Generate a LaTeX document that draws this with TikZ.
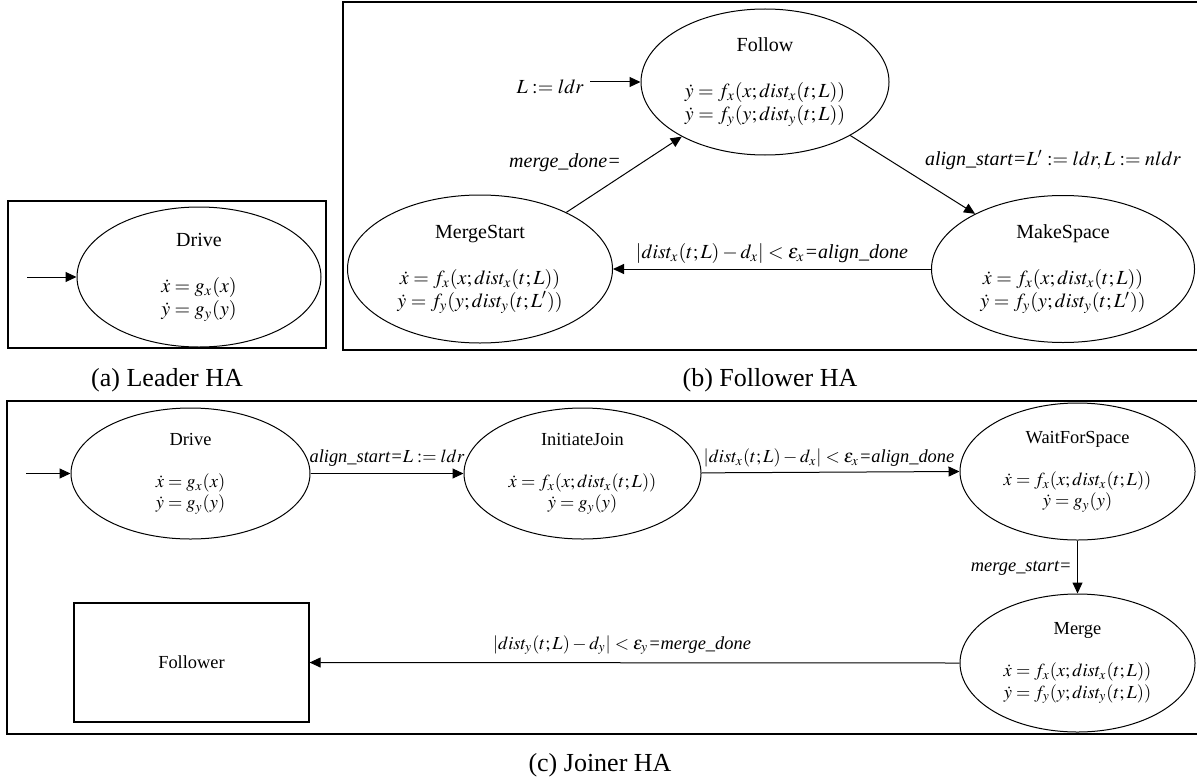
\documentclass[tikz,border=0pt]{standalone}
\usepackage{mathptmx}
\usepackage[no-math]{fontspec}
\setmainfont{Liberation Serif}
\usetikzlibrary{shapes.geometric,arrows.meta}
\tikzset{
  stnode/.style={draw, ellipse, inner sep=0pt, line width=0.5pt, align=center,
    font=\fontsize{10}{11.5}\selectfont},
  stsmall/.style={stnode, font=\fontsize{9.2}{10.6}\selectfont},
  framebox/.style={draw, line width=0.6pt},
  trans/.style={draw, line width=0.5pt, -{Triangle[length=5.5pt,width=5pt]}},
  labtxt/.style={inner sep=0pt, font=\fontsize{10}{12}\selectfont},
  labsmall/.style={inner sep=0pt, font=\fontsize{9.2}{11}\selectfont},
  captxt/.style={inner sep=0pt, font=\fontsize{13}{15}\selectfont},
}
\begin{document}
\begin{tikzpicture}[x=0.5pt,y=-0.5pt]
\useasboundingbox (0,0) rectangle (1197,781);
% frames
\draw[framebox] (8,201) rectangle (326,348);
\draw[framebox] (343,2) rectangle (1199,350);
\draw[framebox] (7,401) rectangle (1199,734);

% (a) Leader
\node[stnode, minimum width=122pt, minimum height=70pt] (drA) at (199,277)
  {Drive\\[11.5pt]$\dot{x} = g_x(x)$\\$\dot{y} = g_y(y)$};
\coordinate (inA) at (27,277);
\draw[trans] (inA) -- (drA.west);
\node[captxt] (capA) at (167,380) {(a) Leader HA};

% (b) Follower
\node[stnode, minimum width=124pt, minimum height=73pt] (fol) at (765,82)
  {Follow\\[11.5pt]$\dot{y} = f_x(x;dist_x(t;L))$\\$\dot{y} = f_y(y;dist_y(t;L))$};
\node[stnode, minimum width=132.5pt, minimum height=74pt] (mst) at (480,269)
  {MergeStart\\[11.5pt]$\dot{x} = f_x(x;dist_x(t;L))$\\$\dot{y} = f_y(y;dist_y(t;L'))$};
\node[stnode, minimum width=131.5pt, minimum height=73.5pt] (msp) at (1063,269)
  {MakeSpace\\[11.5pt]$\dot{x} = f_x(x;dist_x(t;L))$\\$\dot{y} = f_y(y;dist_y(t;L'))$};
\coordinate (inB) at (590,82);
\draw[trans] (inB) -- (fol.west);
\node[labtxt, anchor=east] (lL) at (584,87) {$L := ldr$};
\draw[trans] (mst) -- (fol);
\node[labtxt] (lmd) at (565,163) {\textit{merge\_done=}};
\draw[trans] (fol) -- (msp);
\node[labtxt] (las) at (1053,160) {\textit{align\_start=}$L' := ldr, L := nldr$};
\draw[trans] (msp) -- (mst);
\node[labtxt] (lad) at (772,253) {$|dist_x(t;L) - d_x| < \varepsilon_x$\textit{=align\_done}};
\node[captxt] (capB) at (770,380) {(b) Follower HA};

% (c) Joiner
\node[stsmall, minimum width=119.5pt, minimum height=65.5pt] (drC) at (190.5,473.5)
  {Drive\\[10.6pt]$\dot{x} = g_x(x)$\\$\dot{y} = g_y(y)$};
\node[stsmall, minimum width=118.5pt, minimum height=65.5pt] (ij) at (582.5,473.5)
  {InitiateJoin\\[10.6pt]$\dot{x} = f_x(x;dist_x(t;L))$\\$\dot{y} = g_y(y)$};
\node[stsmall, minimum width=117.5pt, minimum height=68.5pt] (wfs) at (1077.5,471.5)
  {WaitForSpace\\[10.6pt]$\dot{x} = f_x(x;dist_x(t;L))$\\$\dot{y} = g_y(y)$};
\node[stsmall, minimum width=117.5pt, minimum height=69pt] (mrg) at (1077.5,663)
  {Merge\\[10.6pt]$\dot{x} = f_x(x;dist_x(t;L))$\\$\dot{y} = f_y(y;dist_y(t;L))$};
\node[draw, line width=0.6pt, minimum width=117.5pt, minimum height=59.5pt,
  inner sep=0pt, font=\fontsize{9.2}{11}\selectfont] (fw) at (191.5,662.5) {Follower};
\coordinate (inC) at (26,473.5);
\draw[trans] (inC) -- (drC.west);
\draw[trans] (drC) -- (ij);
\node[labsmall] (l1) at (387,458) {\textit{align\_start=}$L := ldr$};
\draw[trans] (ij) -- (wfs.west);
\node[labsmall] (l2) at (829,458) {$|dist_x(t;L) - d_x| < \varepsilon_x$\textit{=align\_done}};
\draw[trans] (wfs) -- (mrg);
\node[labsmall, anchor=east] (l3) at (1072,568) {\textit{merge\_start=}};
\draw[trans] (mrg.west) -- (fw.east);
\node[labsmall] (l4) at (622,645) {$|dist_y(t;L) - d_y| < \varepsilon_y$\textit{=merge\_done}};
\node[captxt] (capC) at (600,765) {(c) Joiner HA};
\end{tikzpicture}
\end{document}
